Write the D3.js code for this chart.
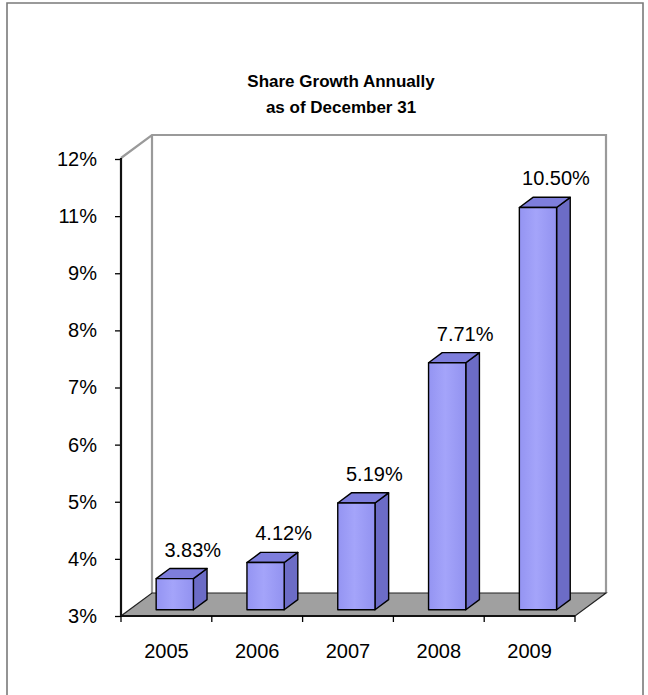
<!DOCTYPE html>
<html>
<head>
<meta charset="utf-8">
<script src="https://cdn.jsdelivr.net/npm/d3@7"></script>
<style>
  html, body { margin: 0; padding: 0; background: #fff; }
  svg { display: block; }
  text { font-family: "Liberation Sans", Arial, sans-serif; fill: #000; }
</style>
</head>
<body>
<svg id="chart" width="648" height="695"></svg>
<script>
// Share growth, year end values (percent)
const years = ["2005", "2006", "2007", "2008", "2009"];
const growth = [3.83, 4.12, 5.19, 7.71, 10.50];
const valueTickLabels = ["3%", "4%", "5%", "6%", "7%", "8%", "9%", "11%", "12%"];
const titleLines = ["Share Growth Annually", "as of December 31"];

const svg = d3.select("#chart");

// Front plane of the 3-D box and its depth offset
const plot = { left: 121, right: 575, floor: 616, top: 158 };
const depth = { dx: 31, dy: -23 };
const barDepth = { start: 0.27, end: 0.71 };

const x = d3.scaleBand()
  .domain(years)
  .range([plot.left, plot.right])
  .paddingInner(0.59)
  .paddingOuter(0.295);

const y = d3.scaleLinear()
  .domain([3.27, 11.5])
  .range([plot.floor, plot.top]);

const yTicks = d3.scalePoint()
  .domain(valueTickLabels)
  .range([plot.floor, plot.top + 1]);

// Outer frame
svg.append("path")
  .attr("d", "M7,700V3H643V700")
  .attr("fill", "none")
  .attr("stroke", "#7a7a7a")
  .attr("stroke-width", 1.6);

// Title
const title = svg.append("text")
  .attr("text-anchor", "middle")
  .attr("font-size", 17)
  .attr("font-weight", "bold");
titleLines.forEach((t, i) => {
  title.append("tspan").attr("x", 341).attr("y", 87 + i * 26).text(t);
});

// Back wall and left side wall outlines
const bx = plot.left + depth.dx, by = plot.top + depth.dy;
const backRight = plot.right + depth.dx;
const floorBack = plot.floor + depth.dy;
svg.append("path")
  .attr("d", `M${plot.left},${plot.top}L${bx},${by}H${backRight}V${floorBack}M${bx},${by}V${floorBack}`)
  .attr("fill", "none")
  .attr("stroke", "#9a9a9a")
  .attr("stroke-width", 2.2);

// Floor
svg.append("path")
  .attr("d", `M${plot.left},${plot.floor}H${plot.right}L${backRight},${floorBack}H${bx}Z`)
  .attr("fill", "#a0a0a0")
  .attr("stroke", "#222")
  .attr("stroke-width", 1.2);

// Bars
const d0x = depth.dx * barDepth.start, d0y = depth.dy * barDepth.start;
const bdx = depth.dx * (barDepth.end - barDepth.start);
const bdy = depth.dy * (barDepth.end - barDepth.start);
const w = x.bandwidth();

const grad = svg.append("defs").append("linearGradient")
  .attr("id", "face").attr("x1", 0).attr("x2", 1).attr("y1", 0).attr("y2", 0);
grad.append("stop").attr("offset", 0).attr("stop-color", "#9494f2");
grad.append("stop").attr("offset", 0.45).attr("stop-color", "#a4a4fa");
grad.append("stop").attr("offset", 1).attr("stop-color", "#9292f0");

const bars = svg.append("g").selectAll("g")
  .data(years.map((yr, i) => ({ yr, v: growth[i] })))
  .join("g")
  .attr("stroke", "#000")
  .attr("stroke-width", 1.4)
  .attr("stroke-linejoin", "round");

bars.each(function (d) {
  const g = d3.select(this);
  const x0 = x(d.yr) + d0x;
  const yt = y(d.v) + d0y;
  const yb = y(y.domain()[0]) + d0y;
  // side face
  g.append("path")
    .attr("d", `M${x0 + w},${yt}L${x0 + w + bdx},${yt + bdy}V${yb + bdy}L${x0 + w},${yb}Z`)
    .attr("fill", "#6c6cc6");
  // top face
  g.append("path")
    .attr("d", `M${x0},${yt}H${x0 + w}L${x0 + w + bdx},${yt + bdy}H${x0 + bdx}Z`)
    .attr("fill", "#7e7edc");
  // front face
  g.append("rect")
    .attr("x", x0).attr("y", yt)
    .attr("width", w).attr("height", yb - yt)
    .attr("fill", "url(#face)");
});

// Value labels
svg.append("g").selectAll("text")
  .data(years.map((yr, i) => ({ yr, v: growth[i] })))
  .join("text")
  .attr("x", d => x(d.yr) + d0x + w / 2 + 18)
  .attr("y", d => y(d.v) + d0y - 22)
  .attr("text-anchor", "middle")
  .attr("font-size", 20)
  .text(d => d.v.toFixed(2) + "%");

// Value axis on the front left edge
const yAxis = svg.append("g")
  .attr("transform", `translate(${plot.left},0)`)
  .call(d3.axisLeft(yTicks).tickSize(6).tickPadding(18));
yAxis.select(".domain").remove();
yAxis.selectAll(".tick line").attr("stroke", "#000").attr("stroke-width", 1.3);
yAxis.selectAll(".tick text").attr("font-size", 20).attr("font-family", "Liberation Sans, Arial, sans-serif");
svg.append("line")
  .attr("x1", plot.left).attr("x2", plot.left)
  .attr("y1", plot.top).attr("y2", plot.floor)
  .attr("stroke", "#111").attr("stroke-width", 2.2);

// Category axis along the front floor edge
svg.append("line")
  .attr("x1", plot.left).attr("x2", plot.right)
  .attr("y1", plot.floor).attr("y2", plot.floor)
  .attr("stroke", "#111").attr("stroke-width", 2);
svg.append("g").selectAll("line")
  .data(d3.range(years.length + 1))
  .join("line")
  .attr("x1", i => plot.left + i * x.step())
  .attr("x2", i => plot.left + i * x.step())
  .attr("y1", plot.floor).attr("y2", plot.floor + 6)
  .attr("stroke", "#000").attr("stroke-width", 1.3);

const xAxis = svg.append("g")
  .attr("transform", `translate(0,${plot.floor})`)
  .call(d3.axisBottom(x).tickSize(0).tickPadding(28));
xAxis.select(".domain").remove();
xAxis.selectAll(".tick text").attr("font-size", 20).attr("font-family", "Liberation Sans, Arial, sans-serif");
</script>
</body>
</html>
